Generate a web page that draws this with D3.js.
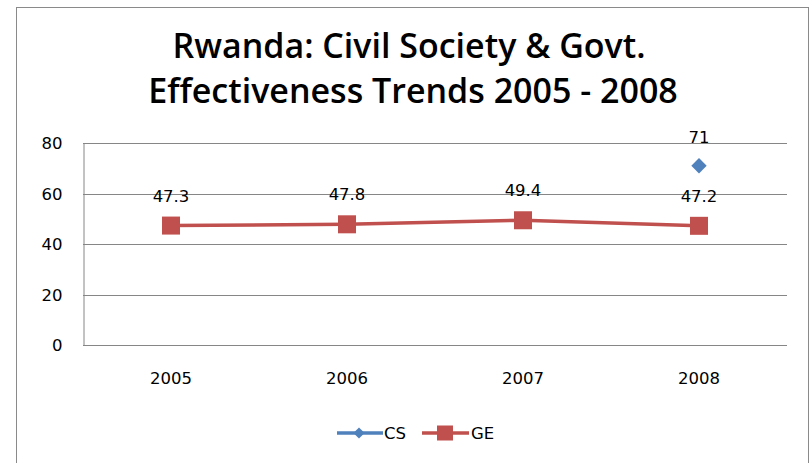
<!DOCTYPE html>
<meta charset="utf-8">
<style>
  body { margin: 0; background: #fff; }
  text { font-family: "DejaVu Sans", "Open Sans", sans-serif; fill: #000; }
  .title { font-family: "Open Sans", sans-serif; font-weight: 600; font-size: 34px; }
  .tick text { font-family: "DejaVu Sans", sans-serif; font-size: 16.5px; }
  .lbl { font-size: 16.5px; }
</style>
<body>
<script src="https://d3js.org/d3.v7.min.js"></script>
<script>
// chart data
var years = ["2005", "2006", "2007", "2008"];
var csValues = [null, null, null, 71];
var geValues = [47.3, 47.8, 49.4, 47.2];
var yTicks = [0, 20, 40, 60, 80];

var W = 811, H = 463;
var plot = { left: 83, top: 143, right: 787, bottom: 345 };

var svg = d3.select("body").append("svg")
    .attr("width", W)
    .attr("height", H);

// outer chart frame
svg.append("rect")
    .attr("x", 16.5).attr("y", 7.5)
    .attr("width", 792).attr("height", 470)
    .attr("fill", "#fff")
    .attr("stroke", "#8a8a8a");

// title
svg.append("text").attr("class", "title")
    .attr("x", 409).attr("y", 58).attr("text-anchor", "middle")
    .text("Rwanda: Civil Society & Govt.");
svg.append("text").attr("class", "title")
    .attr("x", 413).attr("y", 103).attr("text-anchor", "middle")
    .text("Effectiveness Trends 2005 - 2008");

var x = d3.scaleBand().domain(years).range([plot.left, plot.right]);
var y = d3.scaleLinear().domain([0, 80]).range([plot.bottom, plot.top]);

// gridlines
svg.append("g").selectAll("line")
    .data(yTicks)
    .enter().append("line")
    .attr("x1", plot.left).attr("x2", plot.right)
    .attr("y1", function (d) { return Math.round(y(d)) + 0.5; })
    .attr("y2", function (d) { return Math.round(y(d)) + 0.5; })
    .attr("stroke", "#868686");

// y axis
var yAxis = svg.append("g")
    .attr("transform", "translate(" + (plot.left + 0.5) + ",0.5)")
    .call(d3.axisLeft(y).tickValues(yTicks).tickSize(0).tickPadding(21));
yAxis.select(".domain").attr("stroke", "#868686");

// x axis
var xAxis = svg.append("g")
    .attr("transform", "translate(0," + (plot.bottom + 0.5) + ")")
    .call(d3.axisBottom(x).tickSize(0).tickPadding(27));
xAxis.select(".domain").remove();

var cx = function (d, i) { return x(years[i]) + x.bandwidth() / 2; };

// GE line
var line = d3.line()
    .x(function (d, i) { return cx(d, i); })
    .y(function (d) { return y(d); });
svg.append("path")
    .datum(geValues)
    .attr("d", line)
    .attr("fill", "none")
    .attr("stroke", "#c0504d")
    .attr("stroke-width", 3.5);

svg.append("g").selectAll("rect")
    .data(geValues)
    .enter().append("rect")
    .attr("x", function (d, i) { return cx(d, i) - 9; })
    .attr("y", function (d) { return y(d) - 9; })
    .attr("width", 18).attr("height", 18)
    .attr("fill", "#c0504d");

svg.append("g").selectAll("text")
    .data(geValues)
    .enter().append("text")
    .attr("class", "lbl")
    .attr("x", function (d, i) { return cx(d, i); })
    .attr("y", function (d) { return y(d) - 24; })
    .attr("text-anchor", "middle")
    .text(function (d) { return d; });

// CS points
var diamond = d3.symbol().type(d3.symbolDiamond2).size(150);
var csPts = csValues.map(function (v, i) { return { v: v, i: i }; })
    .filter(function (d) { return d.v !== null; });
svg.append("g").selectAll("path")
    .data(csPts)
    .enter().append("path")
    .attr("d", diamond)
    .attr("transform", function (d) { return "translate(" + cx(d.v, d.i) + "," + y(d.v) + ")"; })
    .attr("fill", "#4f81bd");
svg.append("g").selectAll("text")
    .data(csPts)
    .enter().append("text")
    .attr("class", "lbl")
    .attr("x", function (d) { return cx(d.v, d.i); })
    .attr("y", function (d) { return y(d.v) - 23; })
    .attr("text-anchor", "middle")
    .text(function (d) { return d.v; });

// legend
var legend = svg.append("g").attr("transform", "translate(0,433)");
legend.append("line").attr("x1", 337).attr("x2", 383).attr("y1", 0).attr("y2", 0)
    .attr("stroke", "#4f81bd").attr("stroke-width", 3.5);
legend.append("path").attr("d", d3.symbol().type(d3.symbolDiamond2).size(80))
    .attr("transform", "translate(359,0)").attr("fill", "#4f81bd");
legend.append("text").attr("class", "lbl").attr("x", 384).attr("y", 6).text("CS");
legend.append("line").attr("x1", 422).attr("x2", 469).attr("y1", 0).attr("y2", 0)
    .attr("stroke", "#c0504d").attr("stroke-width", 3.5);
legend.append("rect").attr("x", 437).attr("y", -7.5).attr("width", 16).attr("height", 15)
    .attr("fill", "#c0504d");
legend.append("text").attr("class", "lbl").attr("x", 471).attr("y", 6).text("GE");
</script>
</body>
